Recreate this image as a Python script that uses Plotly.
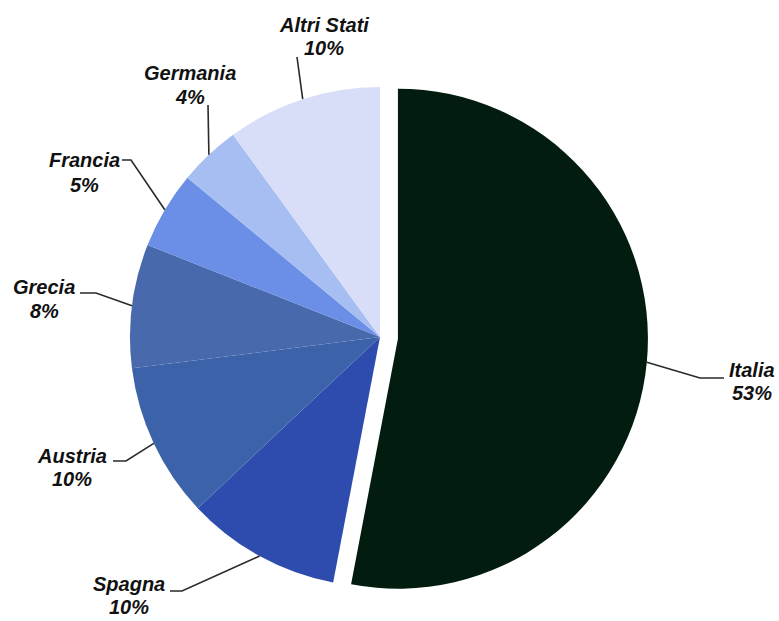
import math
import plotly.graph_objects as go

# ---- data ----
countries = ["Italia", "Spagna", "Austria", "Grecia", "Francia", "Germania", "Altri Stati"]
shares = [53, 10, 10, 8, 5, 4, 10]
colors = ["#031c10", "#2d4cae", "#3c63aa", "#4869ac", "#6b8fe6", "#a6bef2", "#d9def8"]
pulls = [0.072, 0, 0, 0, 0, 0, 0]

# label centres (pixels): (x, y of name, y of percentage)
label_pos = {
    "Italia": (752, 370, 393), "Spagna": (129, 584, 607), "Austria": (72, 456, 479),
    "Grecia": (44, 287, 311), "Francia": (84, 160, 185), "Germania": (190, 73, 97),
    "Altri Stati": (324, 25, 48),
}
# elbow points of leader lines (pixels)
elbows = {
    "Italia": [(700, 378), (724, 378)], "Spagna": [(182, 591), (170, 591)],
    "Austria": [(126, 461), (113, 461)], "Grecia": [(96, 293), (80, 293)],
    "Francia": [(131, 160), (122, 160)], "Germania": [(208, 105)],
    "Altri Stati": [(297, 57)],
}

W, H = 779, 621
CX, CY, R = 380, 337, 250
half = R * (1 + max(pulls))

fig = go.Figure()
fig.add_trace(go.Pie(
    labels=countries, values=shares, sort=False, direction="clockwise", rotation=0,
    pull=pulls, textinfo="none", hoverinfo="label+percent",
    marker=dict(colors=colors, line=dict(width=0)),
    domain=dict(x=[(CX - half) / W, (CX + half) / W],
                y=[(H - CY - half) / H, (H - CY + half) / H]),
    showlegend=False,
))

font = dict(family="Liberation Sans, Arial, sans-serif", size=20, color="#111111")
total = sum(shares)
cum = 0
shapes, annotations = [], []
for name, v, p in zip(countries, shares, pulls):
    mid = (cum + v / 2) / total * 2 * math.pi
    cum += v
    off = p * R
    cx = CX + off * math.sin(mid)
    cy = CY - off * math.cos(mid)
    ex = cx + R * math.sin(mid)
    ey = cy - R * math.cos(mid)
    pts = [(ex, ey)] + elbows[name]
    path = "M " + " L ".join(f"{x:.1f},{y:.1f}" for x, y in pts)
    shapes.append(dict(type="path", path=path, xref="x", yref="y",
                       line=dict(color="#2a2a2a", width=1.6)))
    lx, ly1, ly2 = label_pos[name]
    annotations.append(dict(x=lx, y=ly1, xref="x", yref="y", showarrow=False,
                            text=f"<b><i>{name}</i></b>", font=font,
                            xanchor="center", yanchor="middle"))
    annotations.append(dict(x=lx, y=ly2, xref="x", yref="y", showarrow=False,
                            text=f"<b><i>{v}%</i></b>", font=font,
                            xanchor="center", yanchor="middle"))

fig.update_layout(
    width=W, height=H, margin=dict(l=0, r=0, t=0, b=0),
    paper_bgcolor="white", plot_bgcolor="rgba(0,0,0,0)",
    xaxis=dict(range=[0, W], visible=False, fixedrange=True),
    yaxis=dict(range=[H, 0], visible=False, fixedrange=True),
    shapes=shapes, annotations=annotations,
)
fig.write_html("out.html", config={"displayModeBar": False},
               post_script="document.body.style.margin='0';")
